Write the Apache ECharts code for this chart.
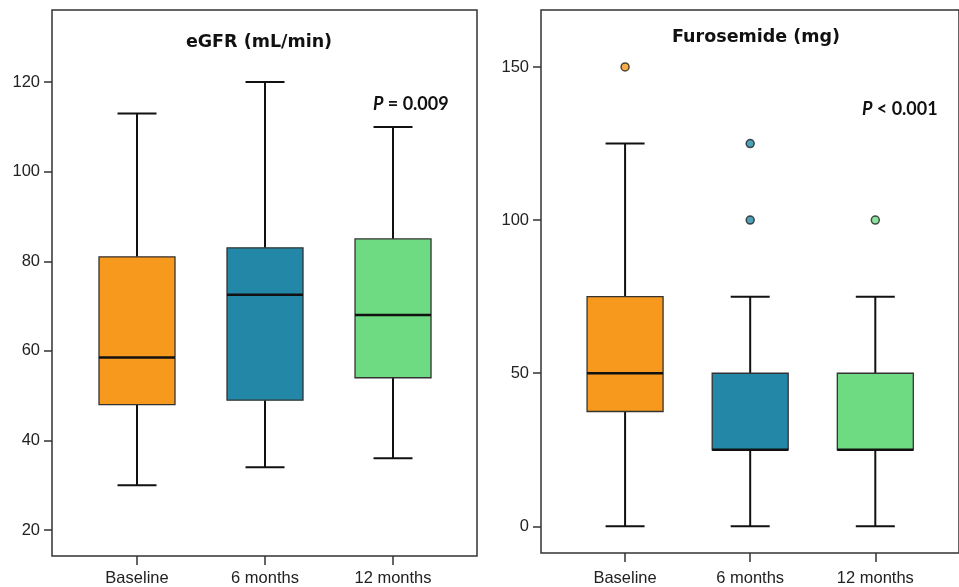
<!DOCTYPE html>
<html>
<head>
<meta charset="utf-8">
<script src="https://cdn.jsdelivr.net/npm/echarts@6/dist/echarts.min.js"></script>
<style>html,body{margin:0;padding:0;background:#fff;}#c{width:959px;height:587px;}</style>
</head>
<body>
<div id="c"></div>
<script>
// Data
var categories = ['Baseline', '6 months', '12 months'];
var colors = ['#F7991C', '#2388A8', '#6EDB82'];
// [min, Q1, median, Q3, max]
var egfrBoxes = [
  [30, 48, 58.5, 81, 113],
  [34, 49, 72.5, 83, 120],
  [36, 54, 68, 85, 110]
];
var furoBoxes = [
  [0, 37.5, 50, 75, 125],
  [0, 25, 25, 50, 75],
  [0, 25, 25, 50, 75]
];
// outliers: [category index, value]
var furoOutliers = [
  [0, 150],
  [1, 125],
  [1, 100],
  [2, 100]
];
var egfrTicks = [20, 40, 60, 80, 100, 120];
var furoTicks = [0, 50, 100, 150];

var chart = echarts.init(document.getElementById('c'));

function boxData(arr) {
  return arr.map(function (b, i) { return [i].concat(b); });
}

function renderBox(params, api) {
  var x = api.value(0);
  var vmin = api.value(1), q1 = api.value(2), med = api.value(3), q3 = api.value(4), vmax = api.value(5);
  var pMin = api.coord([x, vmin]);
  var pQ1 = api.coord([x, q1]);
  var pMed = api.coord([x, med]);
  var pQ3 = api.coord([x, q3]);
  var pMax = api.coord([x, vmax]);
  var cx = pMin[0];
  var hw = 38, cw = 19.5;
  var lineStyle = { stroke: '#111', lineWidth: 2 };
  return {
    type: 'group',
    children: [
      { type: 'line', shape: { x1: cx, y1: pMax[1], x2: cx, y2: pQ3[1] }, style: lineStyle },
      { type: 'line', shape: { x1: cx, y1: pQ1[1], x2: cx, y2: pMin[1] }, style: lineStyle },
      { type: 'line', shape: { x1: cx - cw, y1: pMax[1], x2: cx + cw, y2: pMax[1] }, style: lineStyle },
      { type: 'line', shape: { x1: cx - cw, y1: pMin[1], x2: cx + cw, y2: pMin[1] }, style: lineStyle },
      { type: 'rect', shape: { x: cx - hw, y: pQ3[1], width: 2 * hw, height: pQ1[1] - pQ3[1] },
        style: { fill: colors[x], stroke: '#333', lineWidth: 1.3 } },
      { type: 'line', shape: { x1: cx - hw, y1: pMed[1], x2: cx + hw, y2: pMed[1] }, style: { stroke: '#111', lineWidth: 2.5 } }
    ]
  };
}

var labelFont = { fontFamily: 'Liberation Sans', fontSize: 16.5, color: '#222' };

function xAxis(gi, min, max, margin) {
  return {
    type: 'value', gridIndex: gi, min: min, max: max, position: 'bottom',
    splitLine: { show: false },
    axisLine: { show: false, onZero: false },
    axisTick: { show: true, customValues: [0, 1, 2], length: 9, lineStyle: { color: '#333', width: 1.5 } },
    axisLabel: Object.assign({ customValues: [0, 1, 2], margin: margin,
      formatter: function (v) { return categories[Math.round(v)] || ''; } }, labelFont)
  };
}
function yAxis(gi, min, max, ticks) {
  return {
    type: 'value', gridIndex: gi, min: min, max: max, position: 'left',
    splitLine: { show: false },
    axisLine: { show: false, onZero: false },
    axisTick: { show: true, customValues: ticks, length: 8, lineStyle: { color: '#333', width: 1.5 } },
    axisLabel: Object.assign({ customValues: ticks, margin: 12 }, labelFont)
  };
}

var pRich = {
  i: { fontFamily: 'Lato', fontStyle: 'italic', fontWeight: 'bold', fontSize: 18, fill: '#111' },
  b: { fontFamily: 'Lato', fontWeight: 'bold', fontSize: 18, fill: '#111' }
};

chart.setOption({
  animation: false,
  backgroundColor: '#fff',
  title: [
    { text: 'eGFR (mL/min)', left: 254, top: 28, textAlign: 'center',
      textStyle: { fontFamily: 'DejaVu Sans', fontWeight: 'bold', fontSize: 17.5, color: '#111' } },
    { text: 'Furosemide (mg)', left: 751, top: 23, textAlign: 'center',
      textStyle: { fontFamily: 'DejaVu Sans', fontWeight: 'bold', fontSize: 17.5, color: '#111' } }
  ],
  grid: [
    { left: 52, top: 10, width: 425, height: 547, show: true, borderColor: '#333', borderWidth: 1.5, backgroundColor: 'transparent' },
    { left: 541, top: 10, width: 426, height: 544, show: true, borderColor: '#333', borderWidth: 1.5, backgroundColor: 'transparent' }
  ],
  xAxis: [xAxis(0, -0.664, 2.656, 14), xAxis(1, -0.672, 2.669, 17)],
  yAxis: [yAxis(0, 14.2, 136.1, egfrTicks), yAxis(1, -8.7, 168.6, furoTicks)],
  graphic: [
    { type: 'text', left: 373, top: 95, style: { text: '{i|P}{b| = 0.009}', rich: pRich } },
    { type: 'text', left: 862, top: 100, style: { text: '{i|P}{b| < 0.001}', rich: pRich } }
  ],
  series: [
    { type: 'custom', xAxisIndex: 0, yAxisIndex: 0, renderItem: renderBox, data: boxData(egfrBoxes), encode: { x: 0, y: [1, 2, 3, 4, 5] } },
    { type: 'custom', xAxisIndex: 1, yAxisIndex: 1, renderItem: renderBox, data: boxData(furoBoxes), encode: { x: 0, y: [1, 2, 3, 4, 5] } },
    { type: 'scatter', xAxisIndex: 1, yAxisIndex: 1, symbol: 'circle', symbolSize: 8,
      data: furoOutliers.map(function (o) { return { value: o, itemStyle: { color: colors[o[0]] } }; }),
      itemStyle: { borderColor: '#222', borderWidth: 1.5 } }
  ]
});
</script>
</body>
</html>
